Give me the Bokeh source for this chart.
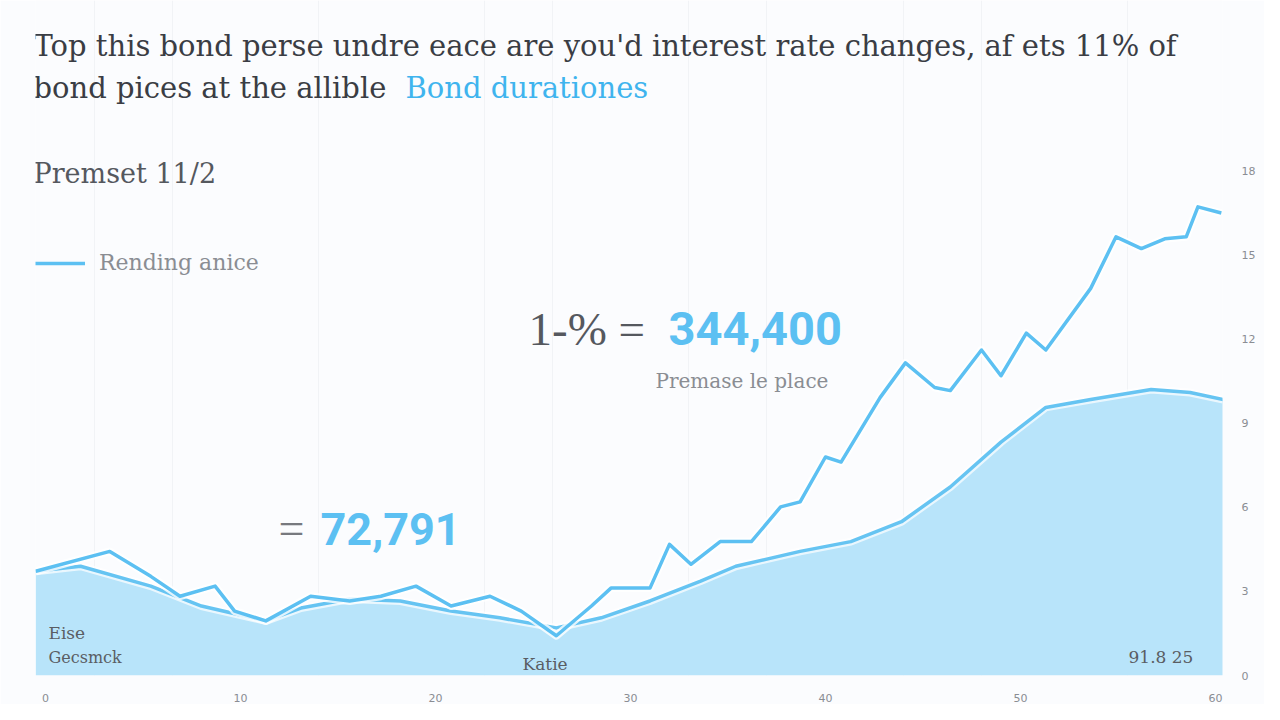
from bokeh.plotting import figure
from bokeh.models import Label, Legend, LegendItem, FixedTicker, Range1d, ColumnDataSource
from bokeh.embed import file_html
from bokeh.resources import INLINE

# ---- data ----
price_x = [-0.5, 3.3, 5.4, 6.9, 8.7, 9.7, 11.3, 13.6, 15.6, 17.2, 19.0, 20.8, 22.8, 24.4,
           26.2, 28.0, 29.0, 31.0, 32.0, 33.1, 34.6, 36.2, 37.7, 38.7, 40.0, 40.8, 42.8,
           44.1, 45.6, 46.4, 48.0, 49.0, 50.3, 51.3, 53.6, 54.9, 56.2, 57.4, 58.5, 59.1, 60.3]
price_y = [3.72, 4.43, 3.54, 2.83, 3.19, 2.30, 1.95, 2.83, 2.66, 2.83, 3.19, 2.48, 2.83, 2.30,
           1.42, 2.48, 3.12, 3.12, 4.68, 3.97, 4.78, 4.78, 6.02, 6.20, 7.80, 7.62, 9.92,
           11.16, 10.28, 10.17, 11.62, 10.70, 12.22, 11.62, 13.82, 15.66, 15.24, 15.59, 15.66, 16.73, 16.51]

dur_x = [-0.5, 1.8, 5.4, 8.0, 11.3, 13.1, 15.6, 18.2, 20.8, 23.3, 26.2, 28.5, 31.0, 33.6,
         35.4, 38.7, 41.3, 43.9, 46.4, 49.0, 51.3, 53.6, 56.7, 58.7, 60.4]
dur_y = [3.72, 3.90, 3.19, 2.48, 1.95, 2.41, 2.73, 2.66, 2.30, 2.06, 1.70, 2.06, 2.66, 3.37,
         3.90, 4.43, 4.78, 5.49, 6.73, 8.33, 9.57, 9.85, 10.21, 10.10, 9.85]

x_ticks = [0, 10, 20, 30, 40, 50, 60]
y_ticks = [0, 3, 6, 9, 12, 15, 18]

title_1 = "Top this bond perse undre eace are you'd interest rate changes, af ets 11% of"
title_2a = "bond pices at the allible"
title_2b = "Bond durationes"

BLUE = "#5cc0f2"
FILL = "#b8e4fa"
DARK = "#3a3d44"
GRAY = "#8a8d93"
SERIF = "DejaVu Serif"

W, H = 1264, 704
ML, MR, MB = 35, 42, 24
FB = H - MB  # frame bottom (canvas px)
p = figure(width=W, height=H, output_backend="svg", toolbar_location=None,
           x_range=Range1d(-0.51, 60.36), y_range=Range1d(0, FB / 28.22),
           min_border_left=ML, min_border_right=MR, min_border_top=0, min_border_bottom=MB,
           x_axis_location="below", y_axis_location="right")
p.background_fill_color = "#fbfcfe"
p.border_fill_color = "#fbfcfe"
p.outline_line_color = None

# grid
p.ygrid.grid_line_color = None
p.xgrid.grid_line_color = "#f1f3f6"
p.xgrid.ticker = FixedTicker(ticks=[2.5, 6.5, 14, 22.5, 26, 33, 37, 44, 48, 55.5])

# axes
for ax in (p.xaxis[0], p.yaxis[0]):
    ax.axis_line_color = None
    ax.major_tick_line_color = None
    ax.minor_tick_line_color = None
    ax.major_label_text_color = GRAY
    ax.major_label_text_font = "DejaVu Sans"
    ax.major_label_text_font_size = "11px"
p.xaxis.ticker = FixedTicker(ticks=x_ticks)
p.yaxis.ticker = FixedTicker(ticks=y_ticks)
p.xaxis.major_label_standoff = 12
p.yaxis.major_label_standoff = 13

dsrc = ColumnDataSource(dict(x=dur_x, y=dur_y))
psrc = ColumnDataSource(dict(x=price_x, y=price_y))

p.varea(x="x", y1=0, y2="y", source=dsrc, fill_color=FILL, fill_alpha=1.0)
p.line(x="x", y="y", source=dsrc, line_color="#ffffff", line_width=8, line_alpha=0.7, line_join="round")
p.line(x="x", y="y", source=dsrc, line_color="#66c4f2", line_width=3.5, line_join="round")
p.line(x="x", y="y", source=psrc, line_color="#ffffff", line_width=8, line_alpha=0.8, line_join="round")
pl = p.line(x="x", y="y", source=psrc, line_color=BLUE, line_width=3.5, line_join="round")

# legend
leg = Legend(items=[LegendItem(label="Rending anice", renderers=[pl])],
             location=(0, 400), background_fill_alpha=0, border_line_color=None,
             glyph_width=50, glyph_height=20, label_text_font_size="22px",
             label_text_color=GRAY, label_text_font=SERIF, padding=0, margin=0,
             label_standoff=14)
p.add_layout(leg)

def lab(x, y, text, size, color, font=SERIF, bold=False, align="left"):
    # x, y: screenshot pixels (top-left origin, vertical centre of text); screen units are frame-relative
    l = Label(x=x - ML, y=FB - y, x_units="screen", y_units="screen", text=text,
              text_font_size=f"{size}px", text_color=color, text_font=font,
              text_baseline="middle", text_align=align,
              text_font_style="bold" if bold else "normal")
    p.add_layout(l)

lab(33, 50, title_1, 29, DARK)
lab(33, 92, title_2a, 29, DARK)
lab(405, 92, title_2b, 29, "#3fb4ee")
lab(33, 178, "Premset 11/2", 27, "#55585e")
lab(528, 333, "1-% =", 47, "#55585e", font="Liberation Serif")
lab(668, 333, "344,400", 47, BLUE, font="Roboto", bold=True)
lab(655, 385, "Premase le place", 20, GRAY)
lab(278, 533, "=", 46, "#77797e", font="Liberation Serif")
lab(320, 533, "72,791", 45, BLUE, font="Roboto", bold=True)
lab(48, 637, "Eise", 17, "#5a5d63")
lab(48, 662, "Gecsmck", 16, "#5a5d63")
lab(522, 668, "Katie", 17, "#5a5d63")
lab(1128, 661, "91.8 25", 17, "#5a5d63")

open("out.html", "w").write(file_html(p, INLINE))
